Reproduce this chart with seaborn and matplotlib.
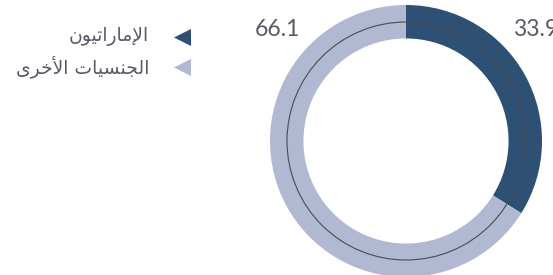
import matplotlib
matplotlib.use('Agg')
import matplotlib.pyplot as plt
import seaborn as sns

# data
labels = ['الإماراتيون', 'الجنسيات الأخرى']
values = [33.9, 66.1]
colors = ['#2e5073', '#b1b8d1']
value_text = ['33.9', '66.1']

# minimal arabic shaping (matplotlib 3.10 has no complex text layout)
FORMS = {
    'ا': ('\uFE8D', '\uFE8E', None, None),
    'إ': ('\uFE87', '\uFE88', None, None),
    'أ': ('\uFE83', '\uFE84', None, None),
    'ر': ('\uFEAD', '\uFEAE', None, None),
    'و': ('\uFEED', '\uFEEE', None, None),
    'ى': ('\uFEEF', '\uFEF0', '\uFBE8', '\uFBE9'),
    'ل': ('\uFEDD', '\uFEDE', '\uFEDF', '\uFEE0'),
    'م': ('\uFEE1', '\uFEE2', '\uFEE3', '\uFEE4'),
    'ت': ('\uFE95', '\uFE96', '\uFE97', '\uFE98'),
    'ي': ('\uFEF1', '\uFEF2', '\uFEF3', '\uFEF4'),
    'ن': ('\uFEE5', '\uFEE6', '\uFEE7', '\uFEE8'),
    'ج': ('\uFE9D', '\uFE9E', '\uFE9F', '\uFEA0'),
    'س': ('\uFEB1', '\uFEB2', '\uFEB3', '\uFEB4'),
    'خ': ('\uFEA5', '\uFEA6', '\uFEA7', '\uFEA8'),
    'لا': ('\uFEFB', '\uFEFC', None, None),
    'لأ': ('\uFEF7', '\uFEF8', None, None),
    'لإ': ('\uFEF9', '\uFEFA', None, None),
}


def shape(text):
    chars = []
    i = 0
    while i < len(text):
        if text[i] == 'ل' and i + 1 < len(text) and text[i + 1] in 'اأإ':
            chars.append(text[i:i + 2])
            i += 2
        else:
            chars.append(text[i])
            i += 1
    out = []
    for k, c in enumerate(chars):
        if c not in FORMS:
            out.append(c)
            continue
        prev = chars[k - 1] if k > 0 else None
        nxt = chars[k + 1] if k + 1 < len(chars) else None
        jp = prev in FORMS and FORMS[prev][2] is not None
        jn = nxt in FORMS and FORMS[c][2] is not None
        iso, fin, ini, med = FORMS[c]
        if jp and jn:
            out.append(med)
        elif jp:
            out.append(fin)
        elif jn:
            out.append(ini)
        else:
            out.append(iso)
    return ''.join(out[::-1])


sns.set_theme(style='white')
plt.rcParams['font.family'] = ['DejaVu Sans']

W, H = 553, 275
fig = plt.figure(figsize=(W / 100, H / 100), dpi=100)

# donut
cx, cy, r = 406, 141, 136
ax = fig.add_axes([(cx - r) / W, (H - cy - r) / H, 2 * r / W, 2 * r / H])
ax.pie(values, colors=colors, startangle=90, counterclock=False,
       wedgeprops=dict(width=0.246, linewidth=0))
ax.add_patch(plt.Circle((0, 0), 0.875, fill=False, color='#4a4a56', lw=0.8))
ax.set_xlim(-1, 1)
ax.set_ylim(-1, 1)
ax.axis('off')

# overlay in pixel coords
ov = fig.add_axes([0, 0, 1, 1])
ov.set_xlim(0, W)
ov.set_ylim(H, 0)
ov.axis('off')
ov.patch.set_alpha(0)

ov.text(300, 29, value_text[1], ha='right', va='center', fontsize=16.5,
        color='#5a5a66', family=['Lato', 'DejaVu Sans'])
ov.text(513, 29, value_text[0], ha='left', va='center', fontsize=16.5,
        color='#5a5a66', family=['Lato', 'DejaVu Sans'])

for i, lab in enumerate(labels):
    y = 37 + i * 30
    ov.scatter([182], [y], marker='<', s=150, color=colors[i], linewidths=0)
    ov.text(149, y, shape(lab), ha='right', va='center', fontsize=13.5,
            color='#5a5a66')

fig.savefig('out.png', dpi=100)
